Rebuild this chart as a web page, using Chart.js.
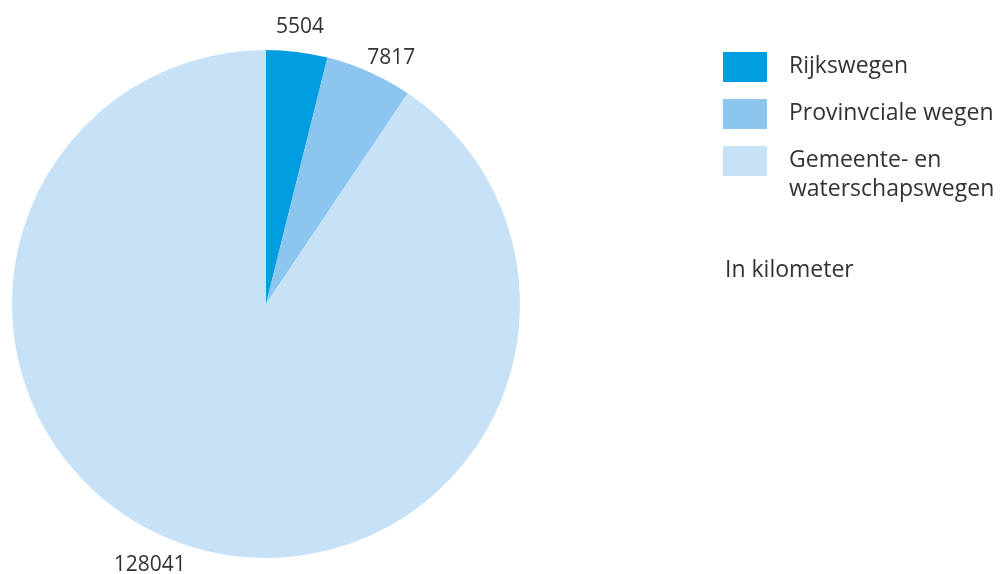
<!DOCTYPE html>
<html>
<head>
<meta charset="utf-8">
<script src="https://cdn.jsdelivr.net/npm/chart.js@4.4.0/dist/chart.umd.min.js"></script>
<style>
  html, body { margin: 0; padding: 0; background: #fff; }
  #wrap { width: 1005px; height: 574px; position: relative; }
</style>
</head>
<body>
<div id="wrap"><canvas id="chart" width="1005" height="574"></canvas></div>
<script>
// Wegennet naar beheerder, in kilometer
const categories = ['Rijkswegen', 'Provinvciale wegen', ['Gemeente- en', 'waterschapswegen']];
const values = [5504, 7817, 128041];
const colors = ['#009ee0', '#8cc5ee', '#c7e2f7'];
const unitNote = 'In kilometer';

const FONT = '"Open Sans", "DejaVu Sans", sans-serif';
const TEXT = '#333333';

// value labels around the pie
const valueLabels = {
    id: 'valueLabels',
    afterDatasetsDraw(chart, args, opts) {
        const ctx = chart.ctx;
        const meta = chart.getDatasetMeta(0);
        ctx.save();
        ctx.font = '21px ' + FONT;
        ctx.fillStyle = TEXT;
        ctx.textAlign = 'center';
        ctx.textBaseline = 'middle';
        meta.data.forEach((arc, i) => {
            const p = arc.getProps(['x', 'y', 'startAngle', 'endAngle', 'outerRadius'], true);
            const mid = (p.startAngle + p.endAngle) / 2 + (opts.shift[i] || 0) * Math.PI / 180;
            const r = p.outerRadius + opts.gap[i];
            ctx.fillText(values[i], p.x + Math.cos(mid) * r, p.y + Math.sin(mid) * r);
        });
        ctx.restore();
    }
};

// legend on the right, drawn from the arrays
const sideLegend = {
    id: 'sideLegend',
    afterDraw(chart, args, opts) {
        const ctx = chart.ctx;
        ctx.save();
        ctx.font = '23px ' + FONT;
        ctx.textBaseline = 'middle';
        let y = opts.top;
        categories.forEach((cat, i) => {
            ctx.fillStyle = colors[i];
            ctx.fillRect(opts.left, y, 44, 30);
            ctx.fillStyle = TEXT;
            const lines = Array.isArray(cat) ? cat : [cat];
            lines.forEach((ln, j) => {
                ctx.fillText(ln, opts.left + 66, y + 14 + j * 29);
            });
            y += 47;
        });
        ctx.fillText(unitNote, opts.left + 2, opts.noteY);
        ctx.restore();
    }
};

new Chart(document.getElementById('chart'), {
    type: 'pie',
    data: {
        labels: categories.map(c => Array.isArray(c) ? c.join(' ') : c),
        datasets: [{
            data: values,
            backgroundColor: colors,
            borderWidth: 0
        }]
    },
    options: {
        responsive: false,
        animation: false,
        layout: {
            padding: { left: 12, top: 50, right: 485, bottom: 16 }
        },
        plugins: {
            legend: { display: false },
            tooltip: { enabled: false },
            valueLabels: { gap: [25, 22, 32], shift: [0, 3, 7] },
            sideLegend: { left: 723, top: 52, noteY: 270 }
        }
    },
    plugins: [valueLabels, sideLegend]
});
</script>
</body>
</html>
